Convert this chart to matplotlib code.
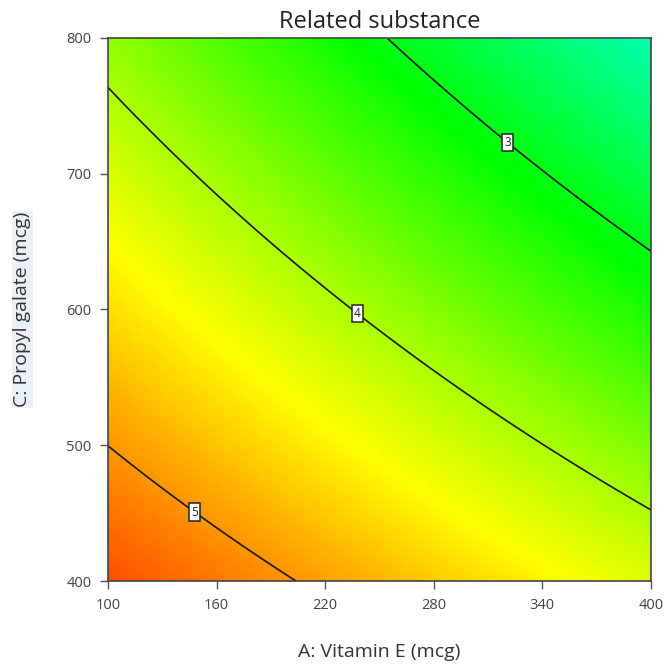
"""Related substance -- contour plot of the fitted response surface (Vitamin E x Propyl galate)."""
import numpy as np
import matplotlib
matplotlib.use("Agg")
import matplotlib.pyplot as plt
from matplotlib.colors import LinearSegmentedColormap

plt.rcParams["font.family"] = ["Open Sans", "DejaVu Sans"]

# points traced along each contour line of the reference (A mcg, C mcg)
LEVELS = [3, 4, 5]
lvl3_A = [254.7, 272.4, 305.5, 322.1, 360.8, 400.0]
lvl3_C = [800.0, 775.0, 741.1, 724.9, 679.2, 642.4]
lvl4_A = [100.0, 139.8, 172.9, 238.7, 300.0, 333.2, 400.0]
lvl4_C = [763.9, 710.1, 667.4, 598.9, 534.8, 505.4, 453.8]
lvl5_A = [100.0, 149.2, 201.7]
lvl5_C = [498.0, 453.0, 400.0]

# label positions of the contour boxes
label_A = [322.0, 238.7, 149.0]
label_C = [725.0, 599.0, 453.0]

A_RANGE = (100, 400)
C_RANGE = (400, 800)
A_TICKS = [100, 160, 220, 280, 340, 400]
C_TICKS = [400, 500, 600, 700, 800]


def coded(A, C):
    a = (np.asarray(A) - 250.0) / 150.0
    c = (np.asarray(C) - 600.0) / 200.0
    return a, c


def design(a, c):
    return np.column_stack([np.ones_like(a), a, c, a * c, a**2, c**2])


def fit_surface():
    """quadratic response surface fitted through the traced contour points"""
    A = np.r_[lvl3_A, lvl4_A, lvl5_A]
    C = np.r_[lvl3_C, lvl4_C, lvl5_C]
    y = np.r_[[3] * len(lvl3_A), [4] * len(lvl4_A), [5] * len(lvl5_A)].astype(float)
    a, c = coded(A, C)
    beta, *_ = np.linalg.lstsq(design(a, c), y, rcond=None)
    return beta


beta = fit_surface()
gA = np.linspace(*A_RANGE, 301)
gC = np.linspace(*C_RANGE, 301)
AA, CC = np.meshgrid(gA, gC)
a, c = coded(AA.ravel(), CC.ravel())
Z = (design(a, c) @ beta).reshape(AA.shape)

# Design-Expert style rainbow: blue -> cyan -> green -> yellow -> red
de_cmap = LinearSegmentedColormap.from_list(
    "de", ["#0000ff", "#00ffff", "#00ff00", "#ffff00", "#ff0000"])

fig = plt.figure(figsize=(6.69, 6.65), dpi=100)
ax = fig.add_axes([0.1614, 0.1263, 0.8116, 0.8166])
ax.imshow(Z, origin="lower", extent=(*A_RANGE, *C_RANGE), aspect="auto",
          cmap=de_cmap, vmin=0.4, vmax=5.8, interpolation="bilinear")
cs = ax.contour(AA, CC, Z, levels=LEVELS, colors="#1a1a1a", linewidths=1.2)
labels = ax.clabel(cs, fmt="%d", inline=False, fontsize=8.5,
                   manual=list(zip(label_A, label_C)))
for t in labels:
    t.set_rotation(0)
    t.set_color("#222222")
    t.set_bbox(dict(facecolor="white", edgecolor="#222222", pad=1.5, lw=1.1))

ax.set_xlim(*A_RANGE)
ax.set_ylim(*C_RANGE)
ax.set_xticks(A_TICKS)
ax.set_yticks(C_TICKS)
ax.tick_params(direction="out", length=6, width=1, colors="#555555",
               labelcolor="#444444", labelsize=10.5, pad=6)
for s in ax.spines.values():
    s.set_color("#444444")
    s.set_linewidth(1.2)

ax.set_title("Related substance", fontsize=17, color="#222222", pad=7)
ax.set_xlabel("A: Vitamin E (mcg)", fontsize=14, color="#333333", labelpad=22)
ax.set_ylabel("C: Propyl galate (mcg)", fontsize=14, color="#333333", labelpad=25,
              bbox=dict(facecolor="#e9f0f8", edgecolor="none", pad=1))

fig.savefig("out.png", dpi=100)
